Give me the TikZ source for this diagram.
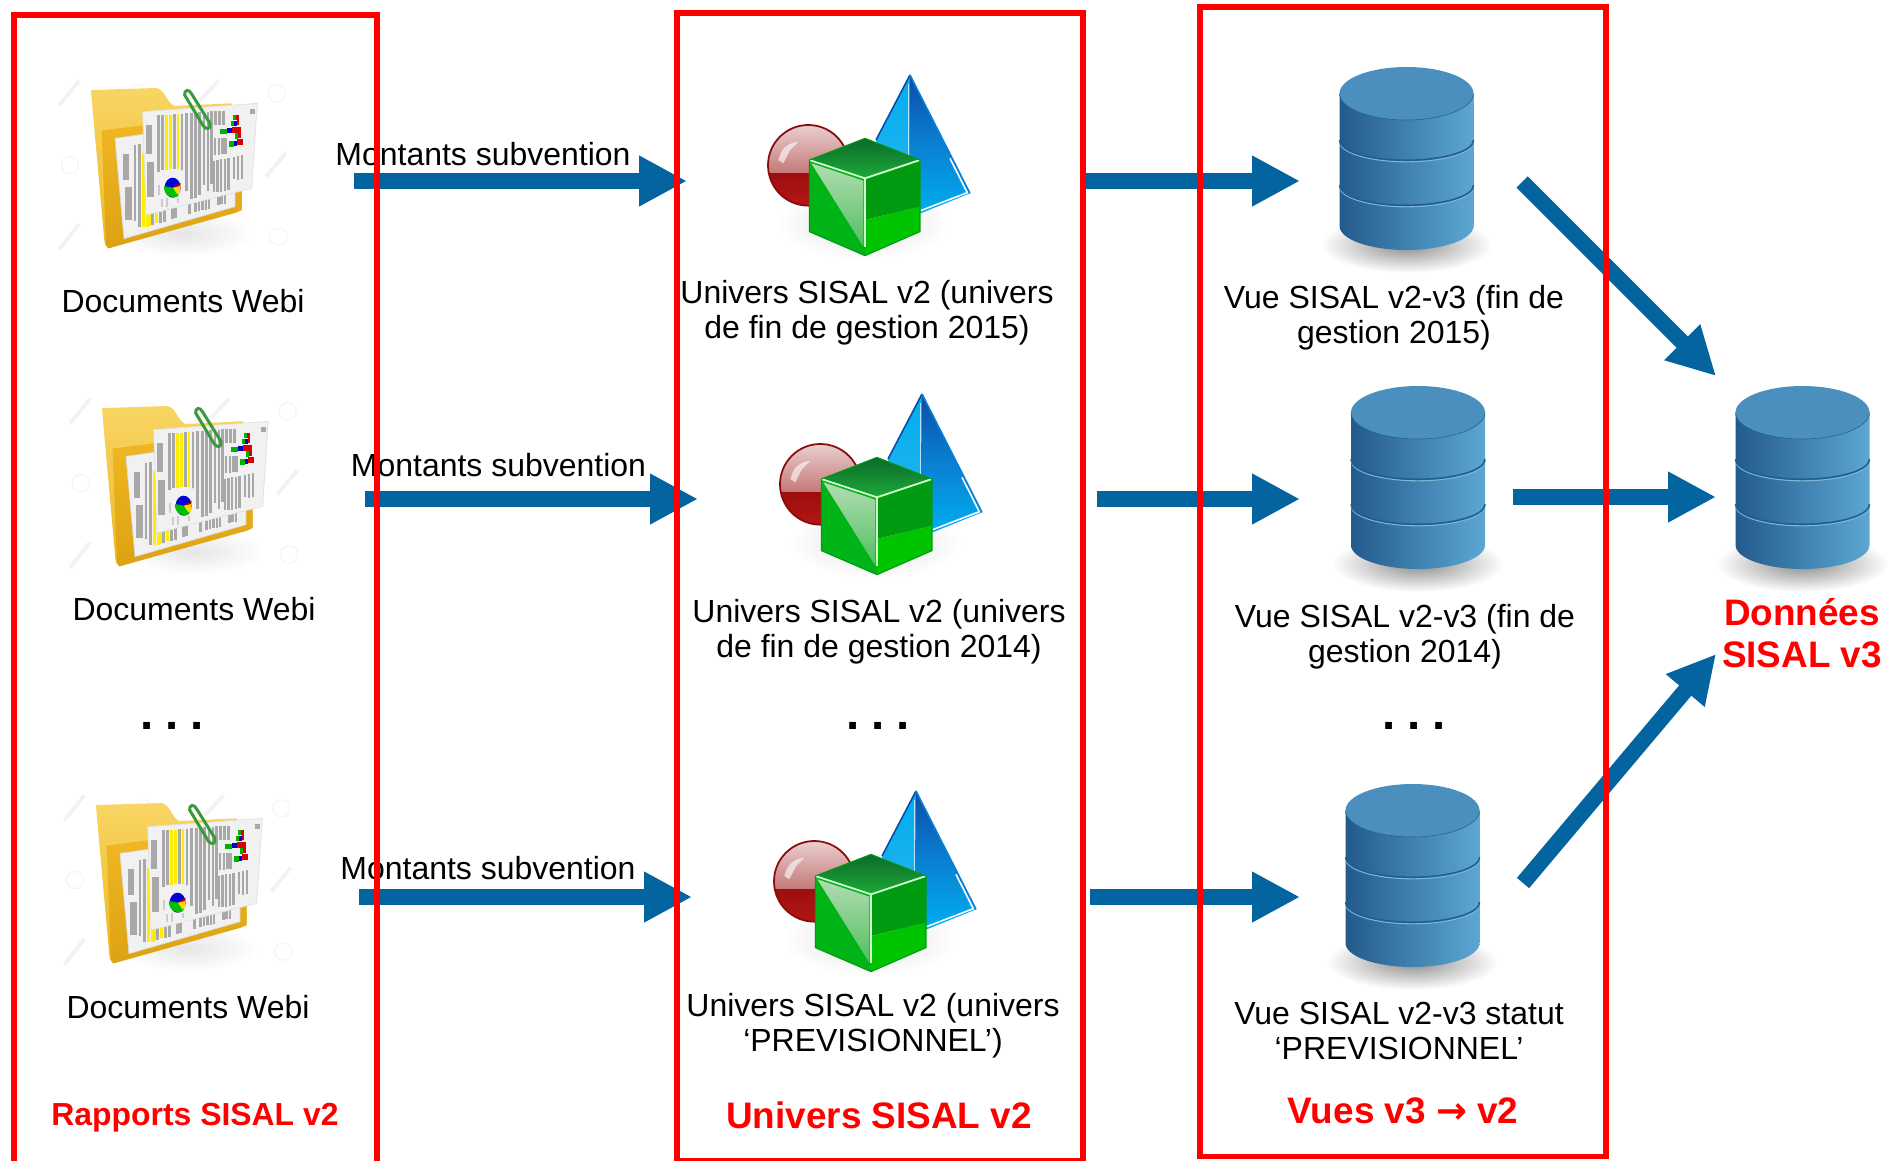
\documentclass[tikz,border=0pt]{standalone}
\usepackage{fontspec}
\setmainfont{Liberation Sans}
\newfontfamily\arrowfont{DejaVu Sans}
\usetikzlibrary{arrows.meta}
\definecolor{flow}{HTML}{0364A0}
\definecolor{frame}{HTML}{FF0000}
\definecolor{cylL}{HTML}{235A8C}
\definecolor{cylR}{HTML}{5CA8D2}
\definecolor{cylT}{HTML}{4B8FBF}
\definecolor{cylD}{HTML}{1F5F92}
\definecolor{cylH}{HTML}{7FB6D8}
\definecolor{foldA}{HTML}{F8D564}
\definecolor{foldB}{HTML}{EFB722}
\definecolor{foldC}{HTML}{DDA213}
\definecolor{barg}{HTML}{A8A8A8}
\definecolor{pap}{HTML}{F1F1F1}
\definecolor{clipgreen}{HTML}{3A9A3A}
\definecolor{pyrA}{HTML}{0A4CA8}
\definecolor{pyrB}{HTML}{0A80D2}
\definecolor{pyrC}{HTML}{00AEEF}
\definecolor{pyrD}{HTML}{2FB4EC}
\definecolor{ballA}{HTML}{EACFCF}
\definecolor{ballB}{HTML}{C47878}
\definecolor{ballC}{HTML}{9E0E0E}
\definecolor{ballD}{HTML}{B81818}
\definecolor{ballE}{HTML}{8B0A0A}
\definecolor{cubeA}{HTML}{0B6B2B}
\definecolor{cubeB}{HTML}{1FA838}
\definecolor{cubeC}{HTML}{009B10}
\definecolor{cubeD}{HTML}{00C400}
\definecolor{cubeE}{HTML}{00B418}
\definecolor{cubeF}{HTML}{B2DCB2}
\definecolor{cubeG}{HTML}{50C060}
\newcommand{\lblfont}{\fontsize{18.2pt}{20.1pt}\selectfont}
\newcommand{\bigred}{\fontsize{21pt}{23.8pt}\selectfont\bfseries}
\newcommand{\dotgap}{\hspace{-3.4pt} }
\tikzset{
  x=0.02cm,y=-0.02cm,
  lbl/.style={align=center,inner sep=0pt,text=black,font=\lblfont},
  redlbl/.style={align=center,inner sep=0pt,text=frame,font=\bigred},
  smallred/.style={align=center,inner sep=0pt,text=frame,font=\fontsize{18.15pt}{21pt}\selectfont\bfseries},
  dotrow/.style={inner sep=0pt,text=black,font=\fontsize{27pt}{27pt}\selectfont\bfseries},
  flowarrow/.style={draw=flow,line width=9.07pt,-{Triangle[length=27.2pt,width=26.9pt]}},
  redbox/.style={draw=frame,line width=3pt},
  gbar/.style={draw=barg,line width=1.5pt},
  ybar/.style={draw=yellow!95!orange,line width=1.5pt},
  wbar/.style={draw=barg,line width=3.6pt},
  wm/.style={draw=black!5,line width=0.5pt},
  foldericon/.pic={
    \foreach \cx/\cy in {680/70,60/285,685/500,265/70}
      \draw[wm] (\cx,\cy) circle (26);
    \foreach \ux/\uy/\vx/\vy in {28/105/88/32,450/90/505/32,648/320/708/248,28/538/88/462,440/540/500/465,240/510/290/470}
      \draw[draw=black!5,line width=2.2pt] (\ux,\uy) -- (\vx,\vy);
    \shade[inner color=black!10,outer color=white] (400,490) ellipse [x radius=210,y radius=70];
    \shade[top color=foldA,bottom color=foldB]
      (123,64) .. controls (123,60) and (125,60) .. (130,60) -- (318,54)
      .. controls (345,58) and (345,90) .. (372,108) -- (545,100) -- (575,360) -- (575,420)
      -- (175,535) .. controls (168,530) and (165,525) .. (163,510) -- cycle;
    \shade[top color=foldB,bottom color=foldC]
      (155,182) -- (285,165) -- (575,362) -- (575,420) -- (558,428) -- (175,535) -- (168,525) -- cycle;
    \fill[pap,draw=black!15] (195,205) -- (300,190) -- (555,360) -- (555,410) -- (222,506) -- cycle;
    \foreach \bx/\ba/\bb in {228/252/330,236/350/450} \draw[wbar] (\bx,\ba) -- (\bx,\bb);
    \foreach \bx/\ba/\bb in {255/224/452,268/222/472,308/430/464,331/425/458,344/420/455,367/415/447,376/413/445,418/402/432,437/396/425,447/394/423,457/392/421,468/390/419,477/388/417,505/378/405,515/376/403,525/374/401} \draw[gbar] (\bx,\ba) -- (\bx,\bb);
    \foreach \bx/\ba/\bb in {280/250/472,292/430/470,300/430/468,320/428/460} \draw[ybar] (\bx,\ba) -- (\bx,\bb);
    \fill[pap,draw=black!12] (278,125) -- (622,100) -- (605,355) -- (288,435) -- cycle;
    \foreach \bx/\ba/\bb in {298/166/252,302/275/380} \draw[wbar] (\bx,\ba) -- (\bx,\bb);
    \foreach \bx/\ba/\bb in {325/136/305,337/135/300,373/133/296,396/131/355,410/129/362,425/128/386,437/127/385,449/126/376,462/125/345,474/125/362,484/123/342,497/123/165,508/122/165,520/122/165,495/205/255,507/205/255,518/203/252,526/203/252,492/272/367,503/270/367,513/268/365,525/266/362,535/264/360,552/260/328,564/258/330,576/255/328}
      \draw[gbar] (\bx,\ba) -- (\bx,\bb);
    \foreach \bx/\ba/\bb in {350/135/300,362/134/298,384/132/296} \draw[ybar] (\bx,\ba) -- (\bx,\bb);
    \fill[pap] (318,322) -- (400,300) -- (405,402) -- (322,420) -- cycle;
    \foreach \bx/\ba/\bb in {328/345/375,335/388/410,352/385/410,385/385/400} \draw[draw=black!20,line width=1.2pt] (\bx,\ba) -- (\bx,\bb);
    \fill[blue!85!black] (368,353) ellipse [x radius=24,y radius=30];
    \fill[yellow!75!orange] (368,353) -- (392,345) -- (390,368) -- (372,383) -- cycle;
    \fill[green!75!black] (368,353) -- (385,378) .. controls (365,390) and (340,375) .. (342,348) -- cycle;
    \fill[red!70!black] (368,353) -- (392,338) -- (390,348) -- cycle;
    \foreach \col/\ya/\xa/\xb in {green!70!black/185/510/530,blue!80!black/182/530/545,red!85!black/180/545/573,green!70!black/222/538/552,blue!80!black/220/552/562,red!85!black/216/562/580,green!70!black/160/542/552,blue!80!black/160/552/560,red!85!black/158/560/568,green!70!black/143/550/558,red!85!black/142/558/567,green!70!black/198/555/565,red!85!black/197/565/574}
      \draw[draw=\col,line width=3pt] (\xa,\ya) -- (\xb,\ya);
    \fill[barg] (601,117) rectangle (615,133);
    \draw[clipgreen,line width=1.7pt]
      (404,75) .. controls (402,60) and (417,55) .. (425,72) -- (480,160)
      .. controls (484,178) and (468,180) .. (460,168) -- cycle;
  },
  solidsicon/.pic={
    \shade[inner color=black!12,outer color=white] (340,490) ellipse [x radius=260,y radius=110];
    \shade[top color=pyrC,bottom color=pyrD]
      (480,45) -- (378,240) -- (420,480) -- (478,440) -- cycle;
    \shade[top color=pyrA,bottom color=pyrC,middle color=pyrB]
      (480,45) -- (660,400) -- (512,460) -- (478,440) -- cycle;
    \draw[pyrA,line width=0.9pt] (378,240) -- (480,45);
    \draw[pyrB,line width=0.9pt] (480,45) -- (660,400);
    \draw[white!70!cyan,line width=0.9pt] (476,72) -- (476,290);
    \draw[white,line width=0.9pt] (512,452) -- (652,398) -- (600,295);
    \begin{scope}
      \clip (175,316) circle (121);
      \shade[top color=ballA,bottom color=ballB] (50,195) rectangle (300,340);
      \shade[top color=ballC,bottom color=ballD] (50,340) rectangle (300,460);
      \fill[white,opacity=.6] (85,300) .. controls (95,260) and (115,250) .. (145,245) -- (120,270) -- (100,310) -- cycle;
    \end{scope}
    \draw[ballE,line width=1pt] (175,316) circle (121);
    \shade[top color=cubeA,bottom color=cubeB] (345,235) -- (510,300) -- (345,355) -- (178,300) -- cycle;
    \fill[cubeE] (178,300) -- (345,355) -- (345,587) -- (178,515) -- cycle;
    \shade[top color=cubeC,bottom color=cubeC] (345,355) -- (510,300) -- (510,440) -- (345,480) -- cycle;
    \fill[cubeD] (345,480) -- (510,440) -- (510,515) -- (345,587) -- cycle;
    \shade[top color=cubeF,bottom color=cubeG] (184,310) -- (340,362) -- (340,560) -- cycle;
    \draw[white!80!green,line width=1pt] (178,300) -- (345,355) -- (510,300);
    \draw[white!80!green,line width=1pt] (345,355) -- (345,560);
    \draw[cubeC,line width=0.6pt] (345,235) -- (510,300) -- (510,515) -- (345,587) -- (178,515) -- (178,300) -- cycle;
  },
  dbicon/.pic={
    \shade[inner color=black!45,outer color=white] (0,178) ellipse [x radius=86,y radius=28];
    \shade[left color=cylL,right color=cylR]
      (-67,28) -- (-67,159) arc[start angle=180,end angle=0,x radius=67,y radius=24] -- (67,28) -- cycle;
    \draw[cylH,line width=0.6pt] (-67,74.8) arc[start angle=180,end angle=0,x radius=67,y radius=20];
    \draw[cylD,line width=0.9pt] (-67,73.2) arc[start angle=180,end angle=0,x radius=67,y radius=20];
    \draw[cylH,line width=0.6pt] (-67,119.8) arc[start angle=180,end angle=0,x radius=67,y radius=20];
    \draw[cylD,line width=0.9pt] (-67,118.2) arc[start angle=180,end angle=0,x radius=67,y radius=20];
    \fill[cylT] (0,26.5) ellipse [x radius=67,y radius=26.5];
    \draw[cylD,line width=0.3pt] (-67,26.5) arc[start angle=180,end angle=0,x radius=67,y radius=26.5];
  }
}
\begin{document}
\begin{tikzpicture}
\useasboundingbox (0,0) rectangle (1888,1160);
\pic[scale=0.3333] at (50,70) {foldericon};
\pic[scale=0.3333] at (61,388) {foldericon};
\pic[scale=0.3333] at (55,785) {foldericon};
\pic[scale=0.3333] at (750,60) {solidsicon};
\pic[scale=0.3333] at (762,379) {solidsicon};
\pic[scale=0.3333] at (756,776) {solidsicon};
\pic at (1406.5,67) {dbicon};
\pic at (1418,386) {dbicon};
\pic at (1412.5,784) {dbicon};
\pic at (1802.5,386) {dbicon};
\coordinate (a1s) at (354,181);  \coordinate (a1e) at (687,181);
\coordinate (a2s) at (365,499);\coordinate (a2e) at (698,499);
\coordinate (a3s) at (359,897);  \coordinate (a3e) at (692,897);
\coordinate (b1s) at (1085,181); \coordinate (b1e) at (1300,181);
\coordinate (b2s) at (1097,499);\coordinate (b2e) at (1300,499);
\coordinate (b3s) at (1090,897); \coordinate (b3e) at (1300,897);
\coordinate (c1s) at (1522,182); \coordinate (c1e) at (1716,376);
\coordinate (c2s) at (1513,497); \coordinate (c2e) at (1716,497);
\coordinate (c3s) at (1523,883); \coordinate (c3e) at (1716,654);
\foreach \n in {a1,a2,a3,b1,b2,b3,c1,c2,c3}
  \draw[flowarrow] (\n s) -- (\n e);
\node[lbl] (doc1) at (183,301) {Documents Webi};
\node[lbl] (doc2) at (194,609.5) {Documents Webi};
\node[lbl] (doc3) at (188,1007.5) {Documents Webi};
\node[lbl] (mon1) at (483,154.5) {Montants subvention};
\node[lbl] (mon2) at (498.5,465) {Montants subvention};
\node[lbl] (mon3) at (488,868.5) {Montants subvention};
\node[lbl] (uni1) at (867,312.5) {Univers SISAL v2 (univers\\de fin de gestion 2015)};
\node[lbl] (uni2) at (879,631.5) {Univers SISAL v2 (univers\\de fin de gestion 2014)};
\node[lbl] (uni3) at (873,1025.5) {Univers SISAL v2 (univers\\‘PREVISIONNEL’)};
\node[lbl] (vue1) at (1394,317.5) {Vue SISAL v2-v3 (fin de\\gestion 2015)};
\node[lbl] (vue2) at (1405,637) {Vue SISAL v2-v3 (fin de\\gestion 2014)};
\node[lbl] (vue3) at (1399,1031) {Vue SISAL v2-v3 statut\\‘PREVISIONNEL’};
\node[dotrow] (dots1) at (172,726) {.\dotgap.\dotgap.};
\node[dotrow] (dots2) at (878,726) {.\dotgap.\dotgap.};
\node[dotrow] (dots3) at (1414,726) {.\dotgap.\dotgap.};
\node[smallred] (t1) at (195,1118) {Rapports SISAL v2};
\node[redlbl] (t2) at (879,1115) {Univers SISAL v2};
\node[redlbl] (t3) at (1403,1111) {Vues v3 {\arrowfont\bfseries →} v2};
\node[redlbl] (t4) at (1802,633) {Données\\SISAL v3};
\draw[redbox] (14,1165) -- (14,15) -- (377,15) -- (377,1165);
\draw[redbox] (677,13) rectangle (1083,1160.5);
\draw[redbox] (1200,7) rectangle (1606,1156.5);
\end{tikzpicture}
\end{document}
